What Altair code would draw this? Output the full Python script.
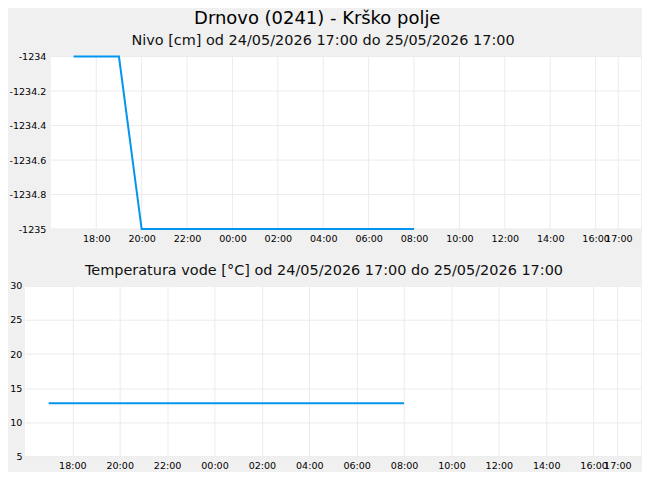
import altair as alt
import pandas as pd

# ---- data ----
level_times = [
    "2026-05-24T17:00:00", "2026-05-24T18:00:00", "2026-05-24T19:00:00",
    "2026-05-24T20:00:00", "2026-05-24T21:00:00", "2026-05-24T22:00:00",
    "2026-05-24T23:00:00", "2026-05-25T00:00:00", "2026-05-25T01:00:00",
    "2026-05-25T02:00:00", "2026-05-25T03:00:00", "2026-05-25T04:00:00",
    "2026-05-25T05:00:00", "2026-05-25T06:00:00", "2026-05-25T07:00:00",
    "2026-05-25T08:00:00",
]
level_values = [-1234, -1234, -1234, -1235, -1235, -1235, -1235, -1235,
                -1235, -1235, -1235, -1235, -1235, -1235, -1235, -1235]

temp_times = level_times
temp_values = [12.8, 12.8, 12.8, 12.8, 12.8, 12.8, 12.8, 12.8,
               12.8, 12.8, 12.8, 12.8, 12.8, 12.8, 12.8, 12.8]

main_title = "Drnovo (0241) - Krško polje"
level_title = "Nivo [cm] od 24/05/2026 17:00 do 25/05/2026 17:00"
temp_title = "Temperatura vode [°C] od 24/05/2026 17:00 do 25/05/2026 17:00"

level_domain = [-1235, -1234]
level_ticks = [-1235, -1234.8, -1234.6, -1234.4, -1234.2, -1234]
temp_domain = [5, 30]
temp_ticks = [5, 10, 15, 20, 25, 30]
x_start = "2026-05-24T16:00:00"
x_end = "2026-05-25T18:00:00"
x_tick_times = [
    "2026-05-24T18:00:00", "2026-05-24T20:00:00", "2026-05-24T22:00:00",
    "2026-05-25T00:00:00", "2026-05-25T02:00:00", "2026-05-25T04:00:00",
    "2026-05-25T06:00:00", "2026-05-25T08:00:00", "2026-05-25T10:00:00",
    "2026-05-25T12:00:00", "2026-05-25T14:00:00", "2026-05-25T16:00:00",
    "2026-05-25T17:00:00",
]

level_df = pd.DataFrame({"t": level_times, "v": level_values})
temp_df = pd.DataFrame({"t": temp_times, "v": temp_values})
xtick_df = pd.DataFrame({"t": x_tick_times})
ytick_df = pd.DataFrame({"v": level_ticks})
bg_df = pd.DataFrame({"t": [x_start], "t2": [x_end],
                      "v": [level_domain[0]], "v2": [level_domain[1]]})

FONT = "DejaVu Sans"
LINE = "#0095ef"
GRID = "#ebebeb"
BG = "#f0f0f0"

W = 618          # width of each chart's plot group
TOP_LEFT = 26    # where the white plot area of the upper chart starts

x_dom = [alt.DateTime(year=2026, month=5, date=24, hours=16),
         alt.DateTime(year=2026, month=5, date=25, hours=18)]
x_vals = [pd.Timestamp(s) for s in x_tick_times]
x_vals = [alt.DateTime(year=v.year, month=v.month, date=v.day, hours=v.hour) for v in x_vals]

label_style = dict(labelFontSize=9.6, labelFont=FONT, labelColor="#000")


def x_axis(grid):
    return alt.Axis(values=x_vals, format="%H:%M", title=None, domain=False,
                    ticks=False, labelPadding=4.5, labelFlush=False,
                    labelOverlap=False, grid=grid, gridColor=GRID, **label_style)


def y_axis_top():
    return alt.Axis(values=level_ticks, labelExpr="toString(datum.value)",
                    title=None, domain=False, ticks=False, grid=False,
                    labelOverlap=False, labelBound=False, offset=-TOP_LEFT,
                    labelPadding=5, **label_style)


# ---------- upper chart (level) ----------
xs_top = alt.Scale(domain=x_dom, range=[TOP_LEFT, W])
ys_top = alt.Scale(domain=level_domain, nice=False, zero=False)


def tx(field="t"):
    return alt.X(f"{field}:T", scale=xs_top, axis=x_axis(False))


def ty(field="v"):
    return alt.Y(f"{field}:Q", scale=ys_top, axis=y_axis_top())


bg = alt.Chart(bg_df).mark_rect(color="white").encode(
    x=tx(), x2="t2:T", y=ty(), y2="v2:Q")
hgrid = alt.Chart(ytick_df).transform_calculate(
    t=f"toDate('{x_start}')", t2=f"toDate('{x_end}')"
).mark_rule(color=GRID, strokeWidth=1).encode(x=tx(), x2="t2:T", y=ty())
vgrid = alt.Chart(xtick_df).transform_calculate(
    v=str(level_domain[0]), v2=str(level_domain[1])
).mark_rule(color=GRID, strokeWidth=1).encode(x=tx(), y=ty(), y2="v2:Q")
lvl = alt.Chart(level_df).mark_line(color=LINE, strokeWidth=2).encode(x=tx(), y=ty())

top = alt.layer(bg, hgrid, vgrid, lvl).properties(
    width=W, height=173,
    view=alt.ViewBackground(fill=BG, stroke=None),
    title=alt.TitleParams(level_title, fontSize=14.5, font=FONT, fontWeight="normal",
                          color="#111", offset=3.5, dx=-10),
)

# ---------- lower chart (temperature) ----------
bottom = alt.Chart(temp_df).mark_line(color=LINE, strokeWidth=2).encode(
    x=alt.X("t:T", scale=alt.Scale(domain=x_dom), axis=x_axis(True)),
    y=alt.Y("v:Q", scale=alt.Scale(domain=temp_domain, nice=False, zero=False),
            axis=alt.Axis(values=temp_ticks, title=None, domain=False, ticks=False,
                          labelOverlap=False, labelPadding=3, gridColor=GRID,
                          **label_style)),
).properties(
    width=W, height=171,
    view=alt.ViewBackground(fill="white", stroke=None),
    title=alt.TitleParams(temp_title, fontSize=14.5, font=FONT, fontWeight="normal",
                          color="#111", offset=2, dx=-9),
)

chart = alt.vconcat(top, bottom, spacing=19).properties(
    title=alt.TitleParams(main_title, fontSize=18, font=FONT, fontWeight="normal",
                          color="#000", anchor="middle", offset=5, dx=-8),
    background=BG,
    padding={"left": 0, "right": 0, "top": 1, "bottom": 0},
)

chart.save("out.html", embed_options={"renderer": "svg", "actions": False})
